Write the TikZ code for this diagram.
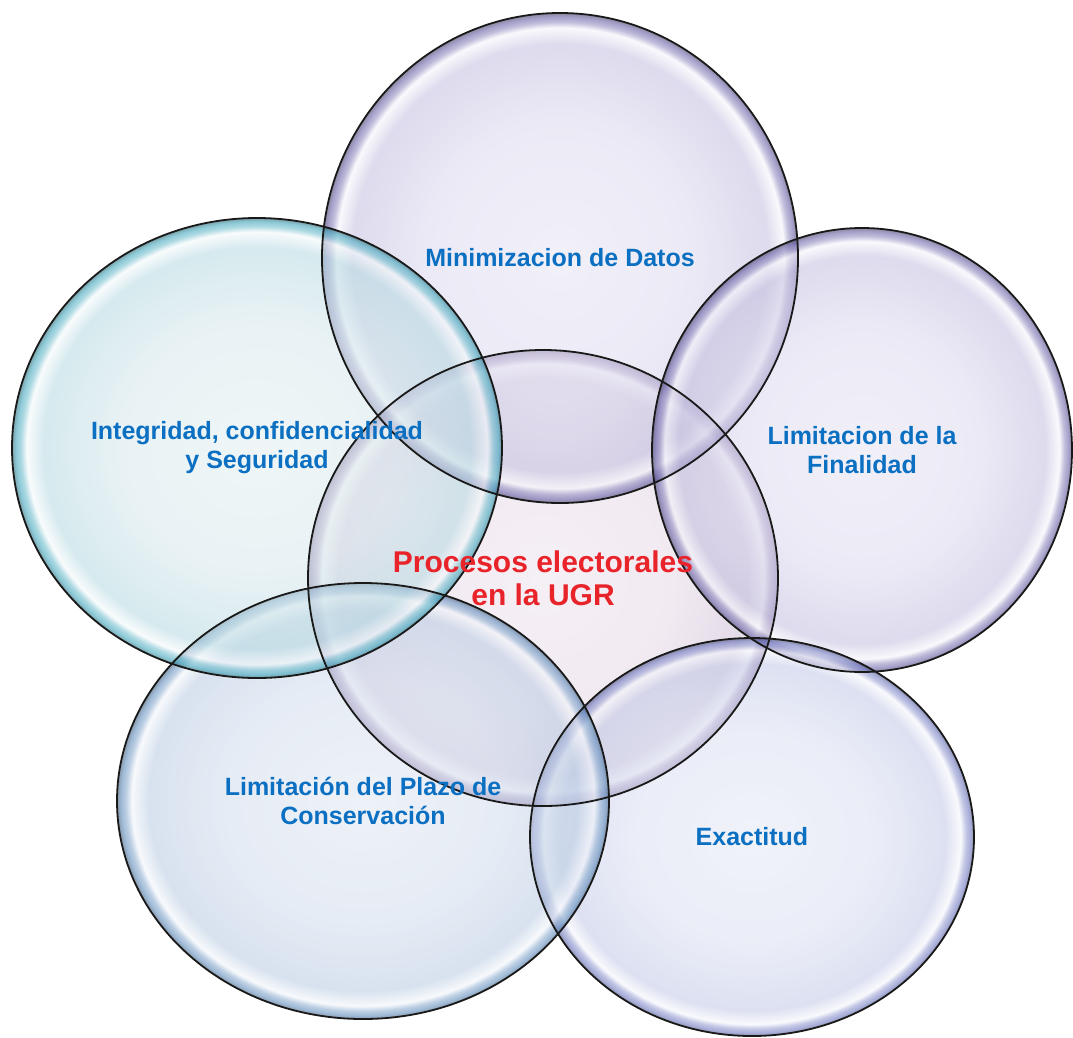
\documentclass[tikz,border=0pt]{standalone}
\usepackage{fontspec}
\setmainfont{Liberation Sans}
\usepackage{tikz}
\usetikzlibrary{shapes.geometric}
\definecolor{bubCyanIn}{HTML}{D9E9ED}
\definecolor{bubCyanRim}{HTML}{3FA6BC}
\definecolor{bubLavIn}{HTML}{DEDBEF}
\definecolor{bubLavRim}{HTML}{6A62A8}
\definecolor{bubPinkIn}{HTML}{E8DCE8}
\definecolor{bubPinkRim}{HTML}{74589A}
\definecolor{bubSteelIn}{HTML}{D5DFEE}
\definecolor{bubSteelRim}{HTML}{5F8CBC}
\definecolor{bubPeriIn}{HTML}{DCE1F2}
\definecolor{bubPeriRim}{HTML}{6E78C0}
\definecolor{txtBlue}{HTML}{0B6FC2}
\definecolor{txtRed}{HTML}{E8232A}
\pgfdeclareradialshading{shCyan}{\pgfpoint{0bp}{0bp}}{color(0bp)=(bubCyanIn!70!white); color(14bp)=(bubCyanIn); color(21.8bp)=(bubCyanIn!80!bubCyanRim); color(23.5bp)=(white!70!bubCyanIn); color(24.1bp)=(bubCyanRim!70!white); color(24.6bp)=(bubCyanRim); color(25bp)=(bubCyanRim!60!black); color(50bp)=(bubCyanRim!60!black)}
\pgfdeclareradialshading{shLav}{\pgfpoint{0bp}{0bp}}{color(0bp)=(bubLavIn!70!white); color(14bp)=(bubLavIn); color(21.8bp)=(bubLavIn!80!bubLavRim); color(23.5bp)=(white!70!bubLavIn); color(24.1bp)=(bubLavRim!70!white); color(24.6bp)=(bubLavRim); color(25bp)=(bubLavRim!60!black); color(50bp)=(bubLavRim!60!black)}
\pgfdeclareradialshading{shPink}{\pgfpoint{0bp}{0bp}}{color(0bp)=(bubPinkIn!70!white); color(14bp)=(bubPinkIn); color(21.8bp)=(bubPinkIn!80!bubPinkRim); color(23.5bp)=(white!70!bubPinkIn); color(24.1bp)=(bubPinkRim!70!white); color(24.6bp)=(bubPinkRim); color(25bp)=(bubPinkRim!60!black); color(50bp)=(bubPinkRim!60!black)}
\pgfdeclareradialshading{shSteel}{\pgfpoint{0bp}{0bp}}{color(0bp)=(bubSteelIn!70!white); color(14bp)=(bubSteelIn); color(21.8bp)=(bubSteelIn!80!bubSteelRim); color(23.5bp)=(white!70!bubSteelIn); color(24.1bp)=(bubSteelRim!70!white); color(24.6bp)=(bubSteelRim); color(25bp)=(bubSteelRim!60!black); color(50bp)=(bubSteelRim!60!black)}
\pgfdeclareradialshading{shPeri}{\pgfpoint{0bp}{0bp}}{color(0bp)=(bubPeriIn!70!white); color(14bp)=(bubPeriIn); color(21.8bp)=(bubPeriIn!80!bubPeriRim); color(23.5bp)=(white!70!bubPeriIn); color(24.1bp)=(bubPeriRim!70!white); color(24.6bp)=(bubPeriRim); color(25bp)=(bubPeriRim!60!black); color(50bp)=(bubPeriRim!60!black)}
\tikzset{
  bubble/.style={ellipse, inner sep=0pt, fill opacity=0.6},
  rimline/.style={draw=black!90, line width=1.8pt},
  bubtext/.style={font=\bfseries\fontsize{25}{29}\selectfont, text=txtBlue,
                  align=center},
  hubtext/.style={bubtext, font=\bfseries\fontsize{30}{33}\selectfont, text=txtRed},
}
\begin{document}
\begin{tikzpicture}[x=1pt, y=-1pt]
\useasboundingbox (0,0) rectangle (1073,1037);
%% Bubbles
\node[bubble, shading=shPink, minimum width=470, minimum height=456]  (hub) at (543,578) {};
\node[bubble, shading=shLav,  minimum width=476, minimum height=490]  (datos) at (560,258) {};
\node[bubble, shading=shLav,  minimum width=420, minimum height=444]  (finalidad) at (862,450) {};
\node[bubble, shading=shPeri, minimum width=444, minimum height=398]  (exact) at (752,837) {};
\node[bubble, shading=shSteel, minimum width=492, minimum height=436] (plazo) at (363,801) {};
\node[bubble, shading=shCyan, minimum width=490, minimum height=460]  (integ) at (257,448) {};
%% Outlines
\draw[rimline] (hub.center)       ellipse [x radius=235pt, y radius=228pt];
\draw[rimline] (datos.center)     ellipse [x radius=238pt, y radius=245pt];
\draw[rimline] (finalidad.center) ellipse [x radius=210pt, y radius=222pt];
\draw[rimline] (exact.center)     ellipse [x radius=222pt, y radius=199pt];
\draw[rimline] (plazo.center)     ellipse [x radius=246pt, y radius=218pt];
\draw[rimline] (integ.center)     ellipse [x radius=245pt, y radius=230pt];
%% Labels
\node[hubtext]  (hubLbl)   at (hub.center)       {Procesos electorales\\en la UGR};
\node[bubtext]  (datosLbl) at (datos.center)     {Minimizacion de Datos};
\node[bubtext]  (finLbl)   at (finalidad.center) {Limitacion de la\\Finalidad};
\node[bubtext]  (exactLbl) at (exact.center)     {Exactitud};
\node[bubtext]  (plazoLbl) at (plazo.center)     {Limitación del Plazo de\\Conservación};
\node[bubtext]  (integLbl) at (integ.center)     {Integridad, confidencialidad\\y Seguridad};
\end{tikzpicture}
\end{document}
